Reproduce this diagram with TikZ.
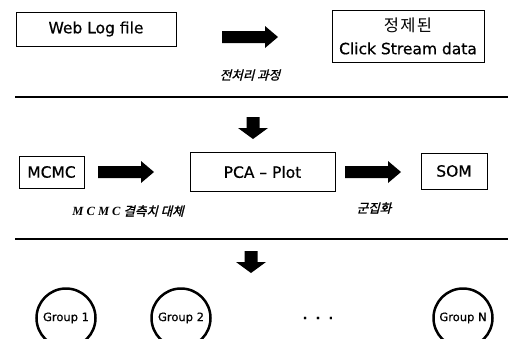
\documentclass[tikz,border=0pt]{standalone}
\usepackage{fontspec}
\setmainfont{DejaVu Sans}[FakeBold=0.6]
\newfontfamily\krfont{Noto Sans CJK KR}[LetterSpace=8]
\newfontfamily\kritfont{Noto Sans CJK KR}[FakeSlant=0.25,FakeBold=1.5]
\newfontfamily\latitfont{Liberation Serif}[LetterSpace=25]
\begin{document}
\begin{tikzpicture}[x=1pt,y=-1pt,
  box/.style={draw,line width=0.8pt,inner sep=0pt,align=center,
    font=\fontsize{15.5}{23}\selectfont},
  group/.style={circle,draw,line width=2.5pt,minimum size=59pt,inner sep=0pt,
    font=\fontsize{11.5}{13}\selectfont},
  steplabel/.style={font=\kritfont\fontsize{12.5}{14}\selectfont},
  rule/.style={line width=2.6pt},
  rarrow/.pic={\fill (-28,-6) -- (15,-6) -- (15,-11) -- (28,0) -- (15,11) -- (15,6) -- (-28,6) -- cycle;},
  darrow/.pic={\fill (-6.5,-11) -- (6.5,-11) -- (6.5,0) -- (15,0) -- (0,11) -- (-15,0) -- (-6.5,0) -- cycle;}
  ]
  \useasboundingbox (0,0) rectangle (511,338);
  \node[box,minimum width=160pt,minimum height=34pt] (weblog) at (96,29) {Web Log file};
  \node[box,minimum width=152pt,minimum height=52pt] (clean) at (408,36) {{\krfont\fontsize{16.5}{20}\selectfont 정제된}\\Click Stream data};
  \pic at (250,37) {rarrow};
  \node[steplabel] (prep) at (250,75) {전처리 과정};
  \draw[rule] (15,97) -- (508,97);
  \pic at (253,128) {darrow};
  \node[box,minimum width=65pt,minimum height=32pt] (mcmc) at (51.5,172) {MCMC};
  \node[box,minimum width=145pt,minimum height=39pt] (pca) at (262.5,172) {PCA -- Plot};
  \node[box,minimum width=66pt,minimum height=36pt] (som) at (454,171) {SOM};
  \pic at (126,172) {rarrow};
  \pic at (373,172) {rarrow};
  \node[steplabel] (impute) at (128,211) {{\latitfont\bfseries\itshape MCMC} 결측치 대체};
  \node[steplabel] (cluster) at (374,208) {군집화};
  \draw[rule] (15,239) -- (508,239);
  \pic at (251,262) {darrow};
  \node[group] (g1) at (66,318) {Group 1};
  \node[group] (g2) at (181,318) {Group 2};
  \node[font=\bfseries\fontsize{12}{14}\selectfont] (dots) at (318,318) {.\ \ .\ \ .};
  \node[group] (gn) at (463,318) {Group N};
\end{tikzpicture}
\end{document}
